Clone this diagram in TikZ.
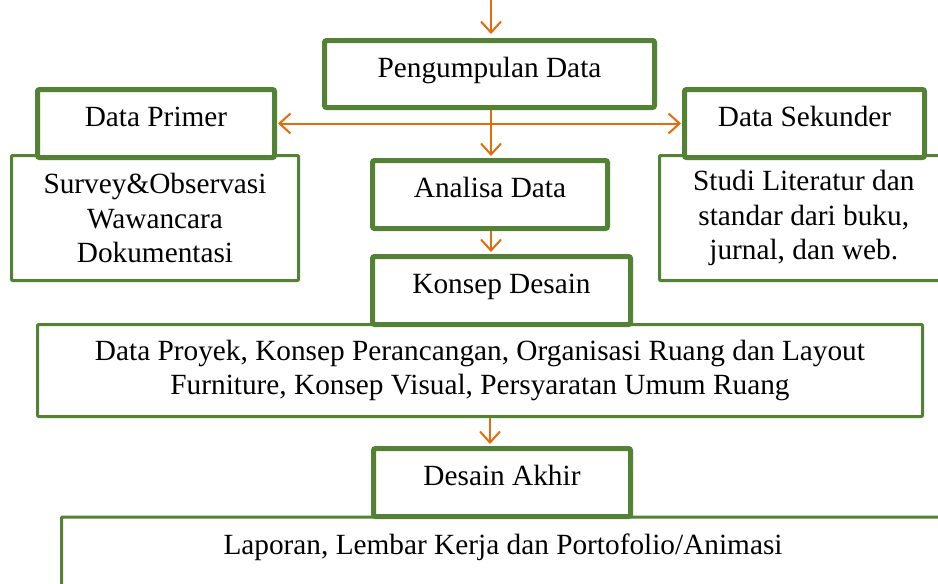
\documentclass[tikz,border=0pt]{standalone}
\usepackage{fontspec}
\setmainfont{Liberation Serif}
\usetikzlibrary{arrows.meta,calc}
\definecolor{boxgreen}{HTML}{548235}
\definecolor{arroworange}{HTML}{E46C0A}
\begin{document}
\begin{tikzpicture}[x=1pt,y=-1pt,
  every node/.style={font=\fontsize{29.3}{34.5}\selectfont, align=center, inner sep=0pt},
  thickbox/.style={draw=boxgreen, line width=5pt, fill=white, rounded corners=2pt, text height=21pt, text depth=15pt},
  thinbox/.style={draw=boxgreen, line width=3pt, fill=white, rounded corners=1pt},
  flow/.style={draw=arroworange, line width=2pt, -{Straight Barb[length=11pt,width=20pt,line width=2pt]}},
  flowboth/.style={draw=arroworange, line width=2pt, {Straight Barb[length=11pt,width=20pt,line width=2pt]}-{Straight Barb[length=11pt,width=20pt,line width=2pt]}}
]
\useasboundingbox (0,0) rectangle (938,584);
\clip (0,0) rectangle (938,584);
\fill[white] (0,0) rectangle (938,584);

% thin boxes (drawn first)
\node[thinbox, minimum width=287pt, minimum height=125pt] (survey) at (155,218)
  {Survey\&Observasi\\Wawancara\\Dokumentasi};
\node[thinbox, minimum width=288.5pt, minimum height=125pt] (studi) at (803.75,218)
  {Studi Literatur dan\\standar dari buku,\\jurnal, dan web.};
\node[thinbox, minimum width=885pt, minimum height=92pt] (dproy) at (480,370.5)
  {Data Proyek, Konsep Perancangan, Organisasi Ruang dan Layout\\Furniture, Konsep Visual, Persyaratan Umum Ruang};
\node[thinbox, minimum width=884.5pt, minimum height=124.5pt, anchor=north] (lap) at (503.75,515.5) {};
\node (laptext) at (503,547) {Laporan, Lembar Kerja dan Portofolio/Animasi};

% thick boxes
\node[thickbox, minimum width=330pt, minimum height=67pt] (pd) at (489.5,74) {Pengumpulan Data};
\node[thickbox, minimum width=237pt, minimum height=68pt] (dp) at (156,123.5) {Data Primer};
\node[thickbox, minimum width=240pt, minimum height=68pt] (ds) at (804.5,123.5) {Data Sekunder};
\node[thickbox, minimum width=235pt, minimum height=68pt] (ad) at (490,194.5) {Analisa Data};
\node[thickbox, minimum width=258pt, minimum height=68pt] (kd) at (501.5,290.5) {Konsep Desain};
\node[thickbox, minimum width=257pt, minimum height=68pt] (da) at (502,482.5) {Desain Akhir};

% connectors
\coordinate (start) at (491,0);
\draw[flow, shorten >=4pt] (start) -- (start |- pd.north);
\draw[flowboth, shorten <=1pt, shorten >=1pt] (dp.east) -- (ds.west);
\draw[flow, shorten >=2pt] (pd.south -| start) -- (ad.north -| start);
\draw[flow, shorten >=2pt] (ad.south -| start) -- (kd.north -| start);
\draw[flow, shorten >=2pt] (dproy.south -| 490,0) -- (da.north -| 490,0);
\end{tikzpicture}
\end{document}
